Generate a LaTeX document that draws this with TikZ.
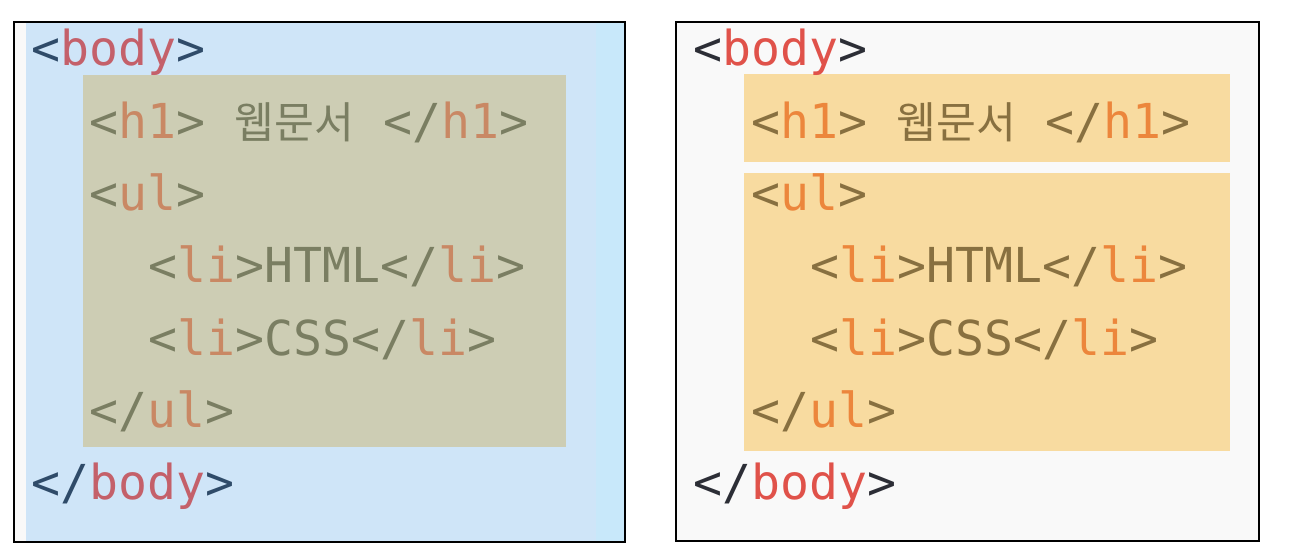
\documentclass[tikz,border=0pt]{standalone}
\usepackage{fontspec}
\newfontfamily\codefont{DejaVu Sans Mono}
\newfontfamily\krfont[Scale=0.9]{Noto Sans CJK KR}
\usepackage{xcolor}
\definecolor{bluefill}{RGB}{207,229,248}
\definecolor{bluestrip}{RGB}{200,232,250}
\definecolor{greyfill}{RGB}{249,249,249}
\definecolor{khaki}{RGB}{205,205,180}
\definecolor{orangefill}{RGB}{248,219,160}
\definecolor{lpunct}{RGB}{47,75,105}
\definecolor{lname}{RGB}{196,96,106}
\definecolor{kpunct}{RGB}{122,126,98}
\definecolor{kname}{RGB}{201,136,100}
\definecolor{rpunct}{RGB}{44,46,54}
\definecolor{rname}{RGB}{224,82,74}
\definecolor{opunct}{RGB}{136,112,64}
\definecolor{oname}{RGB}{236,134,60}
\usepackage{tikz}

\tikzset{code/.style={anchor=base west,inner sep=0pt,font=\codefont\fontsize{13.7}{16}\selectfont}}

\begin{document}
\begin{tikzpicture}[x=0.1mm,y=-0.1mm]
            \useasboundingbox (0,0) rectangle (1290,552);
            \def\dy{72.3} \def\yo{66}
            \def\la{31} \def\lb{89} \def\lc{148}
            \def\ra{693} \def\rb{751} \def\rc{810}
            % left panel
            \fill[greyfill] (14,22) rectangle (625,542);
            \fill[bluefill] (26,22) rectangle (596,542);
            \fill[bluestrip] (596,22) rectangle (625,542);
            \fill[khaki] (83,75) rectangle (566,447);
            \draw[line width=0.5pt] (14,22) rectangle (625,542);
            \node[code] (lbody) at (\la,\yo) {\textcolor{lpunct}{<}\textcolor{lname}{body}\textcolor{lpunct}{>}};
            \node[code,kpunct] (lh1) at (\lb,\yo+\dy) {<\textcolor{kname}{h1}> {\krfont 웹문서} </\textcolor{kname}{h1}>};
            \node[code,kpunct] (lul) at (\lb,\yo+2*\dy) {<\textcolor{kname}{ul}>};
            \node[code,kpunct] (lli1) at (\lc,\yo+3*\dy) {<\textcolor{kname}{li}>HTML</\textcolor{kname}{li}>};
            \node[code,kpunct] (lli2) at (\lc,\yo+4*\dy) {<\textcolor{kname}{li}>CSS</\textcolor{kname}{li}>};
            \node[code,kpunct] (lulend) at (\lb,\yo+5*\dy) {</\textcolor{kname}{ul}>};
            \node[code] (lbodyend) at (\la,\yo+6*\dy) {\textcolor{lpunct}{</}\textcolor{lname}{body}\textcolor{lpunct}{>}};
            % right panel
            \fill[greyfill] (676,22) rectangle (1259,541);
            \fill[orangefill] (744,74) rectangle (1230,162);
            \fill[orangefill] (744,173) rectangle (1230,451);
            \draw[line width=0.5pt] (676,22) rectangle (1259,541);
            \node[code] (rbody) at (\ra,\yo) {\textcolor{rpunct}{<}\textcolor{rname}{body}\textcolor{rpunct}{>}};
            \node[code,opunct] (rh1) at (\rb,\yo+\dy) {<\textcolor{oname}{h1}> {\krfont 웹문서} </\textcolor{oname}{h1}>};
            \node[code,opunct] (rul) at (\rb,\yo+2*\dy) {<\textcolor{oname}{ul}>};
            \node[code,opunct] (rli1) at (\rc,\yo+3*\dy) {<\textcolor{oname}{li}>HTML</\textcolor{oname}{li}>};
            \node[code,opunct] (rli2) at (\rc,\yo+4*\dy) {<\textcolor{oname}{li}>CSS</\textcolor{oname}{li}>};
            \node[code,opunct] (rulend) at (\rb,\yo+5*\dy) {</\textcolor{oname}{ul}>};
            \node[code] (rbodyend) at (\ra,\yo+6*\dy) {\textcolor{rpunct}{</}\textcolor{rname}{body}\textcolor{rpunct}{>}};
        \end{tikzpicture}
\end{document}
